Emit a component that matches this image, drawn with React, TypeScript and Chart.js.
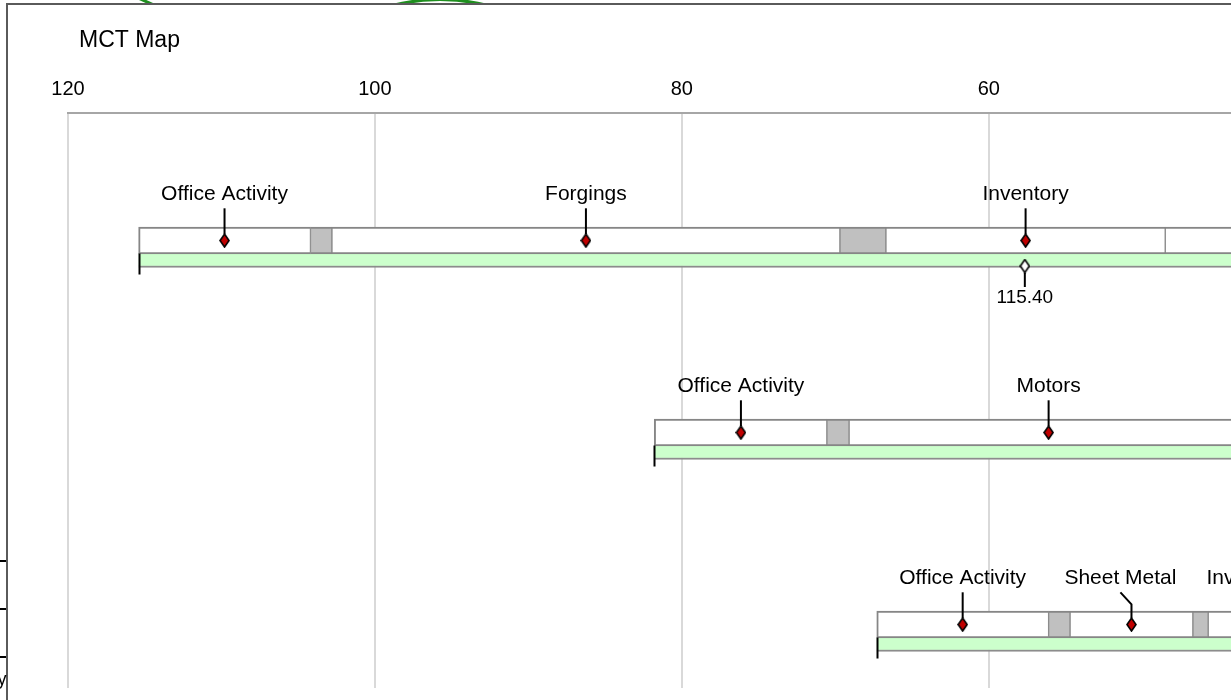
import React, { useEffect, useRef } from 'react';
import { Chart, registerables } from 'chart.js';

Chart.register(...registerables);

const FONT = "'Liberation Sans', Arial, Helvetica, sans-serif";

// ---- axis ----
const CHART_TITLE = 'MCT Map';
const AXIS_MAX = 120;
const AXIS_MIN = 44.15;
const AXIS_STEP = 20;

// ---- MCT (total) bars, one per row ----
const MCT_ROWS = [0, 1, 2];
const MCT_START = [115.4, 81.8, 67.3];
const MCT_END = [0, 0, 0];

// ---- activity (white) segments ----
const ACTIVITY_ROW = [0, 0, 0, 0, 1, 1, 2, 2, 2];
const ACTIVITY_START = [115.4, 102.8, 66.7, 48.5, 81.8, 69.1, 67.3, 54.7, 45.7];
const ACTIVITY_END = [104.2, 69.7, 48.5, 30.0, 70.55, 43.1, 56.1, 46.7, 40.3];

// ---- queue (grey) segments ----
const QUEUE_ROW = [0, 0, 1, 2, 2];
const QUEUE_START = [104.2, 69.7, 70.55, 56.1, 46.7];
const QUEUE_END = [102.8, 66.7, 69.1, 54.7, 45.7];

// ---- activity markers ----
const MARKER_ROW = [0, 0, 0, 1, 1, 2, 2, 2];
const MARKER_VALUE = [109.8, 86.25, 57.6, 76.15, 56.1, 61.7, 50.7, 43.0];
const MARKER_LABEL = [
  'Office Activity',
  'Forgings',
  'Inventory',
  'Office Activity',
  'Motors',
  'Office Activity',
  'Sheet Metal',
  'Inventory',
];

// ---- MCT total marker ----
const TOTAL_ROW = [0];
const TOTAL_VALUE = [57.65];
const TOTAL_LABEL = ['115.40'];

// ---- layout / style constants ----
const CANVAS_W = 1239;
const VIEW_W = 1231;
const VIEW_H = 700;
const Y_MIN = -0.6641;
const Y_MAX = 2.3307;
const ACT_THICK = 27;
const MCT_THICK = 14;
const MCT_OFFSET = 0.1042;
const TOTAL_OFFSET = 0.1328;
const LABEL_GAP = 30;
const LABEL_BASELINE = -40.5;
const LEADER_TOP = -32.2;
const LEADER_BEND = -20.2;
const DIAMOND_HALF = 6.5;

function makeDiamond(fill: string): HTMLCanvasElement {
  const c = document.createElement('canvas');
  c.width = 11;
  c.height = 15;
  const g = c.getContext('2d')!;
  g.beginPath();
  g.moveTo(5.5, 1);
  g.lineTo(10, 7.5);
  g.lineTo(5.5, 14);
  g.lineTo(1, 7.5);
  g.closePath();
  g.fillStyle = fill;
  g.fill();
  g.lineWidth = 1.6;
  g.strokeStyle = '#000';
  g.stroke();
  return c;
}

const annotations = {
  id: 'mctAnnotations',
  afterDatasetsDraw(chart: any) {
    const { ctx, chartArea: a } = chart;
    const xs = chart.scales.x;
    const ys = chart.scales.y;
    ctx.save();
    ctx.beginPath();
    ctx.rect(a.left, a.top, a.right - a.left, a.bottom - a.top);
    ctx.clip();
    ctx.strokeStyle = '#000';
    ctx.fillStyle = '#000';
    ctx.lineWidth = 2;

    // start ticks of MCT bars
    MCT_ROWS.forEach((r, i) => {
      const px = Math.round(xs.getPixelForValue(MCT_START[i])) + 0.5;
      const top = ys.getPixelForValue(r + MCT_OFFSET) - MCT_THICK / 2;
      ctx.beginPath();
      ctx.moveTo(px, top);
      ctx.lineTo(px, top + 21);
      ctx.stroke();
    });

    // activity labels with leaders
    ctx.font = `21px ${FONT}`;
    ctx.textAlign = 'center';
    ctx.textBaseline = 'alphabetic';
    MCT_ROWS.forEach((r) => {
      const items = MARKER_ROW.map((v, i) => (v === r ? i : -1))
        .filter((i) => i >= 0)
        .map((i) => ({
          i,
          px: xs.getPixelForValue(MARKER_VALUE[i]),
          w: ctx.measureText(MARKER_LABEL[i]).width,
        }))
        .sort((p, q) => p.px - q.px);
      const cx = items.map((it) => it.px);
      for (let k = items.length - 2; k >= 0; k--) {
        const overlap = cx[k] + items[k].w / 2 + LABEL_GAP - (cx[k + 1] - items[k + 1].w / 2);
        if (overlap > 0) cx[k] -= overlap;
      }
      const py = ys.getPixelForValue(r);
      items.forEach((it, k) => {
        ctx.fillText(MARKER_LABEL[it.i], cx[k], py + LABEL_BASELINE);
        ctx.beginPath();
        ctx.moveTo(cx[k], py + LEADER_TOP);
        if (Math.abs(cx[k] - it.px) > 0.5) ctx.lineTo(it.px, py + LEADER_BEND);
        ctx.lineTo(it.px, py - DIAMOND_HALF);
        ctx.stroke();
      });
    });

    // total markers
    ctx.font = `19px ${FONT}`;
    TOTAL_ROW.forEach((r, i) => {
      const px = xs.getPixelForValue(TOTAL_VALUE[i]);
      const py = ys.getPixelForValue(r + TOTAL_OFFSET);
      ctx.beginPath();
      ctx.moveTo(px, py + DIAMOND_HALF);
      ctx.lineTo(px, py + 21);
      ctx.stroke();
      ctx.fillText(TOTAL_LABEL[i], px, py + 37.3);
    });
    ctx.restore();
  },
  afterDraw(chart: any) {
    const { ctx } = chart;
    ctx.save();
    // green decoration peeking above the frame
    ctx.save();
    ctx.beginPath();
    ctx.rect(0, 0, chart.width, 4);
    ctx.clip();
    ctx.strokeStyle = '#1f8f1f';
    ctx.lineWidth = 3;
    ctx.beginPath();
    ctx.moveTo(136, -3);
    ctx.lineTo(156, 6);
    ctx.stroke();
    ctx.beginPath();
    ctx.moveTo(390, 6);
    ctx.quadraticCurveTo(440, -7, 490, 6);
    ctx.stroke();
    ctx.restore();

    // frame
    ctx.strokeStyle = '#5a5a5a';
    ctx.lineWidth = 2;
    ctx.beginPath();
    ctx.moveTo(7, chart.height);
    ctx.lineTo(7, 4);
    ctx.lineTo(chart.width, 4);
    ctx.stroke();

    // fragments of neighbouring table at left
    ctx.strokeStyle = '#000';
    [561, 609, 657].forEach((y) => {
      ctx.beginPath();
      ctx.moveTo(0, y);
      ctx.lineTo(6, y);
      ctx.stroke();
    });
    ctx.fillStyle = '#000';
    ctx.font = `18px ${FONT}`;
    ctx.textAlign = 'right';
    ctx.textBaseline = 'alphabetic';
    ctx.fillText('y', 6.5, 685);

    // title
    ctx.font = `23px ${FONT}`;
    ctx.textAlign = 'left';
    ctx.fillText(CHART_TITLE, 79, 47.3);
    ctx.restore();
  },
};

export default function App() {
  const ref = useRef<HTMLCanvasElement>(null);
  useEffect(() => {
    if (!ref.current) return;
    const redDiamond = makeDiamond('#c00000');
    const hollowDiamond = makeDiamond('#ffffff');

    const activityBorder = (c: any) => {
      const i = c.dataIndex;
      const first = i !== undefined && ACTIVITY_START[i] === MCT_START[ACTIVITY_ROW[i]];
      return { top: 2, bottom: 2, left: first ? 2 : 1, right: 1 };
    };

    const chart = new Chart(ref.current, {
      type: 'bar',
      data: {
        datasets: [
          {
            type: 'line',
            label: 'Activities',
            data: MARKER_VALUE.map((v, i) => ({ x: v, y: MARKER_ROW[i] })),
            showLine: false,
            pointStyle: redDiamond as any,
            pointRadius: 6,
          } as any,
          {
            type: 'line',
            label: 'MCT',
            data: TOTAL_VALUE.map((v, i) => ({ x: v, y: TOTAL_ROW[i] + TOTAL_OFFSET })),
            showLine: false,
            pointStyle: hollowDiamond as any,
            pointRadius: 6,
          } as any,
          {
            label: 'Activity',
            data: ACTIVITY_START.map((s, i) => ({ x: [s, ACTIVITY_END[i]], y: ACTIVITY_ROW[i] })),
            backgroundColor: '#ffffff',
            borderColor: '#868686',
            borderWidth: activityBorder,
            borderSkipped: false,
            barThickness: ACT_THICK,
            grouped: false,
          } as any,
          {
            label: 'Queue',
            data: QUEUE_START.map((s, i) => ({ x: [s, QUEUE_END[i]], y: QUEUE_ROW[i] })),
            backgroundColor: '#c0c0c0',
            borderColor: '#868686',
            borderWidth: { top: 2, bottom: 2, left: 1, right: 1 },
            borderSkipped: false,
            barThickness: ACT_THICK,
            grouped: false,
          } as any,
          {
            label: 'MCT bar',
            data: MCT_START.map((s, i) => ({ x: [s, MCT_END[i]], y: MCT_ROWS[i] + MCT_OFFSET })),
            backgroundColor: '#ccffcc',
            borderColor: '#8c8c8c',
            borderWidth: { top: 0, bottom: 2, left: 0, right: 0 },
            borderSkipped: false,
            barThickness: MCT_THICK,
            grouped: false,
          } as any,
        ],
      },
      options: {
        indexAxis: 'y',
        responsive: false,
        devicePixelRatio: 1,
        animation: false,
        layout: { padding: { top: 65, left: 68, right: 0, bottom: 12 } },
        plugins: { legend: { display: false }, tooltip: { enabled: false }, title: { display: false } },
        scales: {
          x: {
            type: 'linear',
            position: 'top',
            reverse: true,
            min: AXIS_MIN,
            max: AXIS_MAX,
            ticks: {
              stepSize: AXIS_STEP,
              includeBounds: false,
              color: '#000',
              padding: 12,
              font: { family: FONT, size: 20 },
              maxRotation: 0,
            },
            grid: { color: '#d9d9d9', lineWidth: 2, drawTicks: false },
            border: { color: '#a6a6a6', width: 2 },
          },
          y: {
            type: 'linear',
            display: false,
            reverse: true,
            offset: false,
            min: Y_MIN,
            max: Y_MAX,
          },
        },
      } as any,
      plugins: [annotations],
    });
    return () => chart.destroy();
  }, []);

  return (
    <div style={{ position: 'fixed', left: 0, top: 0, width: VIEW_W, height: VIEW_H, background: '#fff', overflow: 'hidden' }}>
      <canvas ref={ref} width={CANVAS_W} height={VIEW_H} style={{ display: 'block' }} />
    </div>
  );
}
